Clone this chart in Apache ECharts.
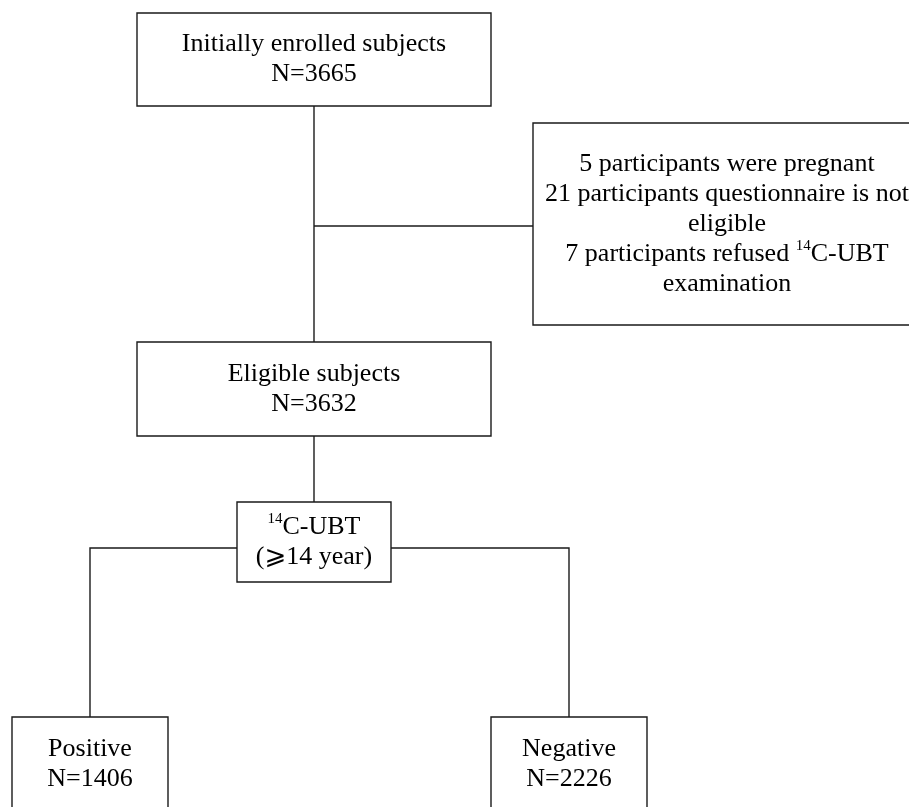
<!DOCTYPE html>
<html>
<head>
<meta charset="utf-8">
<script src="https://cdn.jsdelivr.net/npm/echarts@6/dist/echarts.min.js"></script>
<style>
  html, body { margin: 0; padding: 0; background: #fff; }
  #chart { width: 909px; height: 807px; }
</style>
</head>
<body>
<div id="chart"></div>
<script>
/* Participant flow: 14C-UBT screening */
var stepNames = ["Initially enrolled subjects", "Eligible subjects", "{sup|14}C-UBT", "Positive", "Negative"];
var stepCounts = [3665, 3632, null, 1406, 2226];
var stepNotes = [null, null, "(\u2A7E14 year)", null, null];
var exclusionLines = [
  "5 participants were pregnant",
  "21 participants questionnaire is not",
  "eligible",
  "7 participants refused {sup|14}C-UBT",
  "examination"
];

// layout on the hidden axes (0..909 across, 0..807 down)
var boxLeft   = [137, 137, 237,  12, 491];
var boxRight  = [491, 491, 391, 168, 647];
var boxTop    = [ 13, 342, 502, 717, 717];
var boxBottom = [106, 436, 582, 812, 812];
var exclBox = [533, 921, 123, 325];
var splitY = 548;

var INK = "#1a1a1a";
var FONT = '"Liberation Serif", "Times New Roman", "DejaVu Sans", serif';

function boxText(i) {
  var t = stepNames[i];
  if (stepCounts[i] != null) t += "\nN=" + stepCounts[i];
  if (stepNotes[i]) t += "\n" + stepNotes[i];
  return t;
}

var boxes = stepNames.map(function (n, i) {
  return { value: [boxLeft[i], boxRight[i], boxTop[i], boxBottom[i]], text: boxText(i) };
});
boxes.push({ value: exclBox, text: exclusionLines.join("\n") });

function cx(i) { return (boxLeft[i] + boxRight[i]) / 2; }
var exclMidY = (exclBox[2] + exclBox[3]) / 2 + 2;
var links = [
  [[cx(0), boxBottom[0]], [cx(0), boxTop[1]]],
  [[cx(0), exclMidY], [exclBox[0], exclMidY]],
  [[cx(1), boxBottom[1]], [cx(1), boxTop[2]]],
  [[boxLeft[2], splitY], [cx(3), splitY], [cx(3), boxTop[3]]],
  [[boxRight[2], splitY], [cx(4), splitY], [cx(4), boxTop[4]]]
];

var chart = echarts.init(document.getElementById("chart"), null, { renderer: "canvas" });
chart.setOption({
  animation: false,
  backgroundColor: "#fff",
  grid: { left: 0, right: 0, top: 0, bottom: 0 },
  xAxis: { type: "value", min: 0, max: 909, show: false },
  yAxis: { type: "value", min: 0, max: 807, inverse: true, show: false },
  series: [
    {
      type: "lines",
      coordinateSystem: "cartesian2d",
      polyline: true,
      silent: true,
      lineStyle: { color: INK, width: 1.4, opacity: 1 },
      data: links.map(function (c) { return { coords: c }; })
    },
    {
      type: "custom",
      clip: false,
      silent: true,
      data: boxes,
      renderItem: function (params, api) {
        var p0 = api.coord([api.value(0), api.value(2)]);
        var p1 = api.coord([api.value(1), api.value(3)]);
        var d = boxes[params.dataIndex];
        return {
          type: "group",
          children: [
            { type: "rect",
              shape: { x: p0[0], y: p0[1], width: p1[0] - p0[0], height: p1[1] - p0[1] },
              style: { fill: "#fff", stroke: INK, lineWidth: 1.4 } },
            { type: "text",
              style: {
                text: d.text, x: (p0[0] + p1[0]) / 2, y: (p0[1] + p1[1]) / 2,
                align: "center", verticalAlign: "middle",
                fill: "#000", fontFamily: FONT, fontSize: 26, lineHeight: 30,
                rich: { sup: { fontSize: 15, fontFamily: FONT, verticalAlign: "top", fill: "#000" } }
              } }
          ]
        };
      }
    }
  ]
});
</script>
</body>
</html>
